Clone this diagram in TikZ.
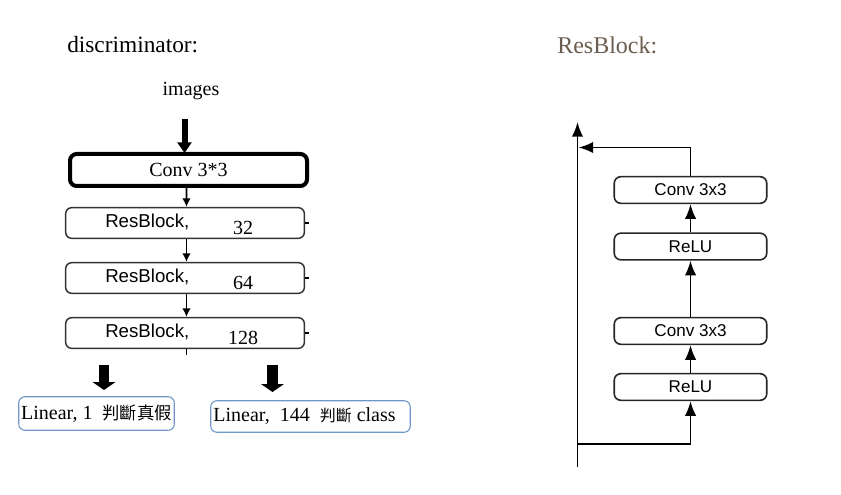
\documentclass[tikz,border=0pt]{standalone}
\usepackage{fontspec}
\setmainfont{Liberation Serif}
\setsansfont{Liberation Sans}
\newfontfamily\cjk{Noto Sans CJK TC}
\usepackage{tikz}
\usetikzlibrary{arrows.meta}
\definecolor{titlebrown}{RGB}{107,93,79}
\definecolor{linblue}{RGB}{110,150,200}

\begin{document}
\begin{tikzpicture}[x=0.75pt,y=0.75pt,yscale=-1,xscale=1,
  convbox/.style={draw, line width=3pt, rounded corners=5pt, minimum width=177.75pt, minimum height=24pt, inner sep=0pt, font=\fontsize{15}{18}\selectfont},
  resbox/.style={draw=black!80, line width=1.1pt, rounded corners=4.5pt, minimum width=179pt, minimum height=23pt, inner sep=0pt},
  resname/.style={anchor=west, inner sep=0pt, font=\sffamily\fontsize{14}{16}\selectfont},
  resnum/.style={inner sep=0pt, font=\fontsize{15}{18}\selectfont},
  linbox/.style={draw=linblue, line width=0.8pt, rounded corners=4.5pt, inner sep=0pt, font=\fontsize{15}{18}\selectfont},
  layerbox/.style={draw=black!85, line width=1.2pt, rounded corners=5pt, minimum width=114.4pt, minimum height=20pt, inner sep=0pt, font=\sffamily\fontsize{12.8}{15}\selectfont},
  smallarr/.style={line width=1.4pt, -{Latex[length=6.5pt,width=6.5pt]}},
  imgarr/.style={line width=4.5pt, -{Triangle[length=8pt,width=10.5pt]}},
  bigarr/.style={line width=8pt, -{Triangle[length=6pt,width=17pt]}},
  resarr/.style={line width=1.4pt, -{Latex[length=11pt,width=8.5pt]}}
]
\useasboundingbox (0,0) rectangle (841,495);

% titles
\node[anchor=west, inner sep=0pt, font=\fontsize{17.5}{21}\selectfont] (disc) at (67,45) {discriminator:};
\node[anchor=west, inner sep=0pt, text=titlebrown, font=\fontsize{18}{21}\selectfont] (restitle) at (557,45) {ResBlock:};

% discriminator
\node[inner sep=0pt, font=\fontsize{15}{18}\selectfont] (images) at (191,91) {images};
\coordinate (imgtail) at (184.5,119);
\draw[imgarr] (imgtail) -- (imgtail |- 0,153);

\node[convbox] (conv) at (188.5,170) {Conv 3*3};

\node[resbox] (rb1) at (185,223) {};
\node[resname] (rbname1) at (105,222) {ResBlock,};
\node[resnum] (rbnum1) at (243,227.5) {32};

\node[resbox] (rb2) at (185,278) {};
\node[resname] (rbname2) at (105,277) {ResBlock,};
\node[resnum] (rbnum2) at (243,282.5) {64};

\node[resbox] (rb3) at (185,333) {};
\node[resname] (rbname3) at (105,332) {ResBlock,};
\node[resnum] (rbnum3) at (243,337.5) {128};

\draw[smallarr] ([xshift=-1.5pt]conv.south) -- ([xshift=1.1pt]rb1.north);
\draw[smallarr] ([xshift=1.1pt]rb1.south) -- ([xshift=1.1pt]rb2.north);
\draw[smallarr] ([xshift=1.1pt]rb2.south) -- ([xshift=1.1pt]rb3.north);
\coordinate (stub) at (186.5,355);
\draw[line width=1.4pt] (rb3.south -| stub) -- (stub);
\draw[line width=1pt] (rb1.east) -- ++(3.5,0);
\draw[line width=1pt] (rb2.east) -- ++(3.5,0);
\draw[line width=1pt] (rb3.east) -- ++(3.5,0);

\node[linbox, minimum width=116.6pt, minimum height=25.1pt] (lin1) at (96.5,413.5) {Linear, 1~~{\cjk\fontsize{13}{15}\selectfont 判斷真假}};
\node[linbox, minimum width=149.6pt, minimum height=23.6pt] (lin2) at (310.5,416.5) {Linear,~~144~~{\cjk\fontsize{12}{15}\selectfont 判斷}~class\hspace*{9pt}};

\coordinate (out1) at (104,365);
\coordinate (in1) at (104,390);
\draw[bigarr] (out1) -- (in1);
\coordinate (out2) at (272.5,365);
\coordinate (in2) at (272.5,392);
\draw[bigarr] (out2) -- (in2);

% resblock
\node[layerbox] (conva) at (690.5,190) {Conv 3x3};
\node[layerbox] (relua) at (690.5,246.5) {ReLU};
\node[layerbox] (convb) at (690.5,331) {Conv 3x3};
\node[layerbox] (relub) at (690.5,387) {ReLU};

\coordinate (xin) at (577.5,467);
\coordinate (xout) at (577.5,122);
\coordinate (split) at (577.5,444);
\coordinate (merge) at (578.5,147.5);
\draw[resarr] (xin) -- (xout);
\draw[resarr] (split) -| (relub.south);
\draw[resarr] (relub) -- (convb);
\draw[resarr] (convb) -- (relua);
\draw[resarr] (relua) -- (conva);
\draw[resarr] (conva.north) |- (merge);

\end{tikzpicture}
\end{document}
